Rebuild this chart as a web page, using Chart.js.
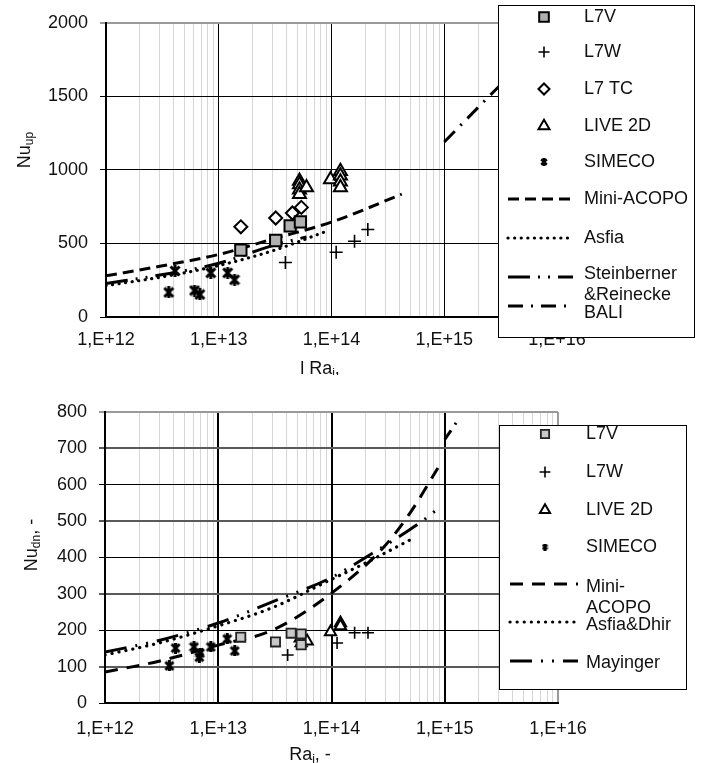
<!DOCTYPE html>
<html>
<head>
<meta charset="utf-8">
<script src="https://cdn.jsdelivr.net/npm/chart.js@4.4.0/dist/chart.umd.min.js"></script>
<style>
  body { margin: 0; background: #fff; }
  #wrap { position: relative; width: 706px; height: 763px; overflow: hidden; }
  canvas { position: absolute; left: 0; }
</style>
</head>
<body>
<div id="wrap">
  <canvas id="cUp" width="706" height="375" style="top:0px"></canvas>
  <canvas id="cDn" width="706" height="388" style="top:375px"></canvas>
</div>
<script>
/*      DATOS     */

// eje x comun (Ra_i, escala log)
const xTickLabels = ['1,E+12', '1,E+13', '1,E+14', '1,E+15', '1,E+16'];

// ---- grafico superior: Nu_up
const upYTicks = [0, 500, 1000, 1500, 2000];

const upL7vRa = [1.57e13, 3.2e13, 4.3e13, 5.3e13];
const upL7vNu = [455, 520, 620, 647];
const upL7wRa = [3.9e13, 1.1e14, 1.6e14, 2.1e14];
const upL7wNu = [370, 440, 515, 595];
const upTcRa = [1.57e13, 3.2e13, 4.5e13, 5.4e13];
const upTcNu = [613, 673, 707, 745];
const upLiveRa = [5.2e13, 5.2e13, 5.2e13, 5.2e13, 6.0e13, 9.8e13, 1.2e14, 1.2e14, 1.2e14, 1.2e14];
const upLiveNu = [925, 900, 865, 835, 880, 935, 990, 960, 920, 880];
const upSimRa = [3.6e12, 4.1e12, 6.1e12, 6.8e12, 8.5e12, 1.2e13, 1.38e13];
const upSimNu = [167, 313, 180, 153, 300, 300, 253];

const upMiniRa = [1e12, 3e12, 1e13, 3e13, 1e14, 4.2e14];
const upMiniNu = [280, 345, 425, 530, 645, 835];
const upAsfiaRa = [1e12, 3e12, 1e13, 3e13, 8.7e13];
const upAsfiaNu = [213, 270, 350, 450, 578];
const upSteinRa = [1e12, 3e12, 1e13, 3e13, 6e13];
const upSteinNu = [228, 285, 365, 485, 545];
const upBaliRa = [1e15, 2.9e15, 1e16];
const upBaliNu = [1190, 1550, 1960];

// ---- grafico inferior: Nu_dn
const dnYTicks = [0, 100, 200, 300, 400, 500, 600, 700, 800];

const dnL7vRa = [1.58e13, 3.2e13, 4.4e13, 5.4e13, 5.4e13];
const dnL7vNu = [181, 168, 192, 190, 160];
const dnL7wRa = [4.1e13, 1.12e14, 1.6e14, 2.1e14];
const dnL7wNu = [132, 165, 193, 193];
const dnLiveRa = [5.3e13, 5.4e13, 6.1e13, 9.8e13, 1.2e14, 1.2e14];
const dnLiveNu = [178, 165, 170, 195, 220, 212];
const dnSimRa = [3.7e12, 4.2e12, 6.1e12, 6.8e12, 6.9e12, 8.6e12, 1.2e13, 1.4e13];
const dnSimNu = [102, 151, 154, 126, 137, 154, 176, 143];

const dnMiniRa = [1e12, 3e12, 1e13, 3e13, 1e14, 2.9e14, 5e14, 8.7e14];
const dnMiniNu = [85, 115, 159, 200, 302, 429, 525, 646];
const dnAsfiaRa = [1e12, 3e12, 1e13, 3e13, 1e14, 2e14, 5.5e14];
const dnAsfiaNu = [132, 165, 212, 262, 340, 385, 456];
const dnMayRa = [1e12, 3e12, 1e13, 3e13, 1e14, 2e14, 6e14, 9.4e14];
const dnMayNu = [140, 172, 220, 278, 345, 400, 495, 542];
const dnBaliRa = [1e15, 1.15e15, 1.32e15];
const dnBaliNu = [725, 752, 780];

/*      UTILIDADES     */

const FAM = "'Liberation Sans', Arial, sans-serif";

function pts(xs, ys) {
    return xs.map(function(x, i) { return { x: x, y: ys[i] }; });
}

function esDecada(v) {
    var l = Math.log10(v);
    return Math.abs(l - Math.round(l)) < 1e-9;
}

// marcador tipo asterisco de Excel (X con barra vertical)
function marcaAsterisco(size, lw) {
    var c = document.createElement('canvas');
    c.width = size; c.height = size;
    var g = c.getContext('2d');
    g.strokeStyle = '#000';
    g.lineWidth = lw;
    var m = lw / 2;
    g.beginPath();
    g.moveTo(m, m); g.lineTo(size - m, size - m);
    g.moveTo(size - m, m); g.lineTo(m, size - m);
    g.moveTo(size / 2, 0); g.lineTo(size / 2, size);
    g.stroke();
    return c;
}

// caja de leyenda dibujada sobre el area del grafico
const leyendaCaja = {
    id: 'leyendaCaja',
    afterDraw(chart, args, opts) {
        var ctx = chart.ctx;
        var b = opts.box;
        ctx.save();
        ctx.fillStyle = '#fff';
        ctx.fillRect(b.x, b.y, b.w, b.h);
        ctx.strokeStyle = '#000';
        ctx.lineWidth = 1;
        ctx.strokeRect(b.x + 0.5, b.y + 0.5, b.w, b.h);
        var fila = 0;
        chart.data.datasets.forEach(function(ds) {
            if (ds.enLeyenda === false) return;
            var r = opts.rows[fila++];
            if (ds.showLine) {
                ctx.beginPath();
                ctx.setLineDash(ds.borderDash || []);
                ctx.lineWidth = ds.borderWidth;
                ctx.lineCap = ds.borderCapStyle || 'butt';
                ctx.strokeStyle = '#000';
                ctx.moveTo(opts.lineX0, r.sy);
                ctx.lineTo(opts.lineX1, r.sy);
                ctx.stroke();
                ctx.setLineDash([]);
            } else {
                ctx.fillStyle = ds.pointBackgroundColor || '#000';
                ctx.strokeStyle = ds.pointBorderColor || '#000';
                ctx.lineWidth = ds.pointBorderWidth || 1;
                Chart.helpers.drawPoint(ctx, {
                    pointStyle: ds.marcaLeyenda || ds.pointStyle,
                    radius: ds.pointRadius * opts.escala,
                    borderWidth: ds.pointBorderWidth || 1,
                    rotation: 0
                }, opts.symX, r.sy);
            }
            ctx.fillStyle = '#111';
            ctx.font = opts.font;
            ctx.textAlign = 'left';
            ctx.textBaseline = 'middle';
            ds.label.split('\n').forEach(function(t, k) {
                ctx.fillText(t, opts.textX, r.ty[k]);
            });
        });
        ctx.restore();
    }
};

// titulos de ejes con subindices
const titulosEjes = {
    id: 'titulosEjes',
    afterDraw(chart, args, opts) {
        var ctx = chart.ctx;
        var fMain = opts.size + 'px ' + FAM;
        var fSub = Math.round(opts.size * 0.68) + 'px ' + FAM;
        opts.items.forEach(function(it) {
            ctx.save();
            ctx.translate(it.x, it.y);
            if (it.rot) ctx.rotate(-Math.PI / 2);
            var w = 0;
            it.parts.forEach(function(p) {
                ctx.font = p.sub ? fSub : fMain;
                w += ctx.measureText(p.t).width;
            });
            var cx = -w / 2;
            ctx.textBaseline = 'middle';
            ctx.textAlign = 'left';
            ctx.fillStyle = '#111';
            it.parts.forEach(function(p) {
                ctx.font = p.sub ? fSub : fMain;
                ctx.fillText(p.t, cx, p.sub ? 5 : 0);
                cx += ctx.measureText(p.t).width;
            });
            ctx.restore();
        });
    }
};

function ejeX(decadaAncho, cajaAlto, padTicks) {
    return {
        type: 'logarithmic',
        min: 1e12,
        max: 1e16,
        afterBuildTicks: function(scale) {
            var t = [];
            for (var e = 12; e < 16; e++) {
                for (var k = 1; k <= 9; k++) t.push({ value: k * Math.pow(10, e) });
            }
            t.push({ value: 1e16 });
            scale.ticks = t;
        },
        afterFit: function(scale) { scale.height = cajaAlto; },
        ticks: {
            autoSkip: false,
            maxRotation: 0,
            padding: padTicks,
            color: '#111',
            font: { family: FAM, size: 18 },
            callback: function(v) {
                if (!esDecada(v)) return '';
                return xTickLabels[Math.round(Math.log10(v)) - 12];
            }
        },
        grid: {
            drawTicks: false,
            color: function(c) {
                var v = c.tick.value;
                if (v >= 1e16) return '#9a9a9a';
                return esDecada(v) ? '#000' : '#d6d6d6';
            },
            lineWidth: function(c) {
                var v = c.tick.value;
                if (v >= 1e16) return 2;
                return esDecada(v) ? decadaAncho : 1;
            }
        },
        border: { color: '#000', width: 2 }
    };
}

function ejeY(valores, ancho, colorFn, anchoFn) {
    return {
        min: valores[0],
        max: valores[valores.length - 1],
        afterBuildTicks: function(scale) {
            scale.ticks = valores.map(function(v) { return { value: v }; });
        },
        afterFit: function(scale) { scale.width = ancho; },
        ticks: {
            padding: 12,
            color: '#111',
            font: { family: FAM, size: 18 },
            callback: function(v) { return String(v); }
        },
        grid: {
            tickLength: 6,
            color: colorFn,
            lineWidth: anchoFn
        },
        border: { color: '#000', width: 2 }
    };
}

/*      GRAFICO SUPERIOR     */

var simUp = marcaAsterisco(12, 3);
var simUpLey = marcaAsterisco(8, 2.5);

new Chart(document.getElementById('cUp'), {
    type: 'scatter',
    data: {
        datasets: [
            { label: 'L7V', data: pts(upL7vRa, upL7vNu), pointStyle: 'rect', pointRadius: 8,
              pointBackgroundColor: '#b0b0b0', pointBorderColor: '#000', pointBorderWidth: 2 },
            { label: 'L7W', data: pts(upL7wRa, upL7wNu), pointStyle: 'cross', pointRadius: 6.5,
              pointBackgroundColor: '#000', pointBorderColor: '#000', pointBorderWidth: 1.6 },
            { label: 'L7 TC', data: pts(upTcRa, upTcNu), pointStyle: 'rectRot', pointRadius: 6.5,
              pointBackgroundColor: '#fff', pointBorderColor: '#000', pointBorderWidth: 2 },
            { label: 'LIVE 2D', data: pts(upLiveRa, upLiveNu), pointStyle: 'triangle', pointRadius: 7.5,
              pointBackgroundColor: '#fff', pointBorderColor: '#000', pointBorderWidth: 2 },
            { label: 'SIMECO', data: pts(upSimRa, upSimNu), pointStyle: simUp, marcaLeyenda: simUpLey, pointRadius: 6,
              pointBackgroundColor: '#000', pointBorderColor: '#000', pointBorderWidth: 1 },
            { label: 'Mini-ACOPO', data: pts(upMiniRa, upMiniNu), showLine: true, pointRadius: 0,
              borderColor: '#000', borderWidth: 3, borderDash: [11, 6], cubicInterpolationMode: 'monotone' },
            { label: 'Asfia', data: pts(upAsfiaRa, upAsfiaNu), showLine: true, pointRadius: 0,
              borderColor: '#000', borderWidth: 3.2, borderDash: [0.1, 6.5], borderCapStyle: 'round',
              cubicInterpolationMode: 'monotone' },
            { label: 'Steinberner\n&Reinecke', data: pts(upSteinRa, upSteinNu), showLine: true, pointRadius: 0,
              borderColor: '#000', borderWidth: 3, borderDash: [22, 8, 2, 8, 2, 8], cubicInterpolationMode: 'monotone' },
            { label: 'BALI', data: pts(upBaliRa, upBaliNu), showLine: true, pointRadius: 0,
              borderColor: '#000', borderWidth: 3, borderDash: [15, 8, 2, 8], cubicInterpolationMode: 'monotone' }
        ]
    },
    options: {
        responsive: false,
        animation: false,
        layout: { padding: { left: 0, top: 18, right: 149, bottom: 0 } },
        scales: {
            x: ejeX(1, 58, 12),
            y: ejeY(upYTicks, 106,
                function(c) { return c.tick.value >= 2000 ? '#9a9a9a' : '#000'; },
                function(c) { return c.tick.value >= 2000 ? 2 : 1; })
        },
        plugins: {
            legend: { display: false },
            tooltip: { enabled: false },
            leyendaCaja: {
                box: { x: 498, y: 5, w: 196, h: 332 },
                symX: 544, lineX0: 508, lineX1: 573, textX: 584, escala: 0.85,
                font: '18px ' + FAM,
                rows: [
                    { sy: 17, ty: [17] }, { sy: 52, ty: [52] }, { sy: 89, ty: [89] },
                    { sy: 126, ty: [126] }, { sy: 162, ty: [162] }, { sy: 199, ty: [199] },
                    { sy: 238, ty: [238] }, { sy: 277, ty: [274, 295] }, { sy: 306, ty: [313] }
                ]
            },
            titulosEjes: {
                size: 18,
                items: [
                    { x: 25, y: 150, rot: true, parts: [{ t: 'Nu' }, { t: 'up', sub: true }] },
                    { x: 320, y: 369, parts: [{ t: 'l Ra' }, { t: 'i', sub: true }, { t: ',' }] }
                ]
            }
        }
    },
    plugins: [leyendaCaja, titulosEjes]
});

/*      GRAFICO INFERIOR     */

var simDn = marcaAsterisco(11, 3);
var simDnLey = marcaAsterisco(7, 2.5);

new Chart(document.getElementById('cDn'), {
    type: 'scatter',
    data: {
        datasets: [
            { label: 'L7V', data: pts(dnL7vRa, dnL7vNu), pointStyle: 'rect', pointRadius: 6.5,
              pointBackgroundColor: '#c8c8c8', pointBorderColor: '#222', pointBorderWidth: 1.8 },
            { label: 'L7W', data: pts(dnL7wRa, dnL7wNu), pointStyle: 'cross', pointRadius: 6,
              pointBackgroundColor: '#000', pointBorderColor: '#000', pointBorderWidth: 1.6 },
            { label: 'LIVE 2D', data: pts(dnLiveRa, dnLiveNu), pointStyle: 'triangle', pointRadius: 6.5,
              pointBackgroundColor: '#fff', pointBorderColor: '#000', pointBorderWidth: 2 },
            { label: 'SIMECO', data: pts(dnSimRa, dnSimNu), pointStyle: simDn, marcaLeyenda: simDnLey, pointRadius: 5,
              pointBackgroundColor: '#000', pointBorderColor: '#000', pointBorderWidth: 1 },
            { label: 'Mini-\nACOPO', data: pts(dnMiniRa, dnMiniNu), showLine: true, pointRadius: 0,
              borderColor: '#000', borderWidth: 3, borderDash: [13, 9], cubicInterpolationMode: 'monotone' },
            { label: 'Asfia&Dhir', data: pts(dnAsfiaRa, dnAsfiaNu), showLine: true, pointRadius: 0,
              borderColor: '#000', borderWidth: 3.2, borderDash: [0.1, 7], borderCapStyle: 'round',
              cubicInterpolationMode: 'monotone' },
            { label: 'Mayinger', data: pts(dnMayRa, dnMayNu), showLine: true, pointRadius: 0,
              borderColor: '#000', borderWidth: 3, borderDash: [22, 9, 2, 9, 2, 9], cubicInterpolationMode: 'monotone' },
            { label: 'BALI', enLeyenda: false, data: pts(dnBaliRa, dnBaliNu), showLine: true, pointRadius: 0,
              borderColor: '#000', borderWidth: 3, borderDash: [11, 7, 2, 7], cubicInterpolationMode: 'monotone' }
        ]
    },
    options: {
        responsive: false,
        animation: false,
        layout: { padding: { left: 0, top: 37, right: 148, bottom: 0 } },
        scales: {
            x: ejeX(2, 60, 15),
            y: ejeY(dnYTicks, 105,
                function(c) {
                    var v = c.tick.value;
                    if (v >= 800) return '#9a9a9a';
                    return (v / 100) % 2 === 1 ? '#5a5a5a' : '#000';
                },
                function(c) {
                    var v = c.tick.value;
                    if (v >= 800) return 2;
                    return (v / 100) % 2 === 1 ? 2 : 1;
                })
        },
        plugins: {
            legend: { display: false },
            tooltip: { enabled: false },
            leyendaCaja: {
                box: { x: 499, y: 50, w: 187, h: 264 },
                symX: 545, lineX0: 510, lineX1: 578, textX: 586, escala: 0.9,
                font: '18px ' + FAM,
                rows: [
                    { sy: 59, ty: [59] }, { sy: 97, ty: [97] }, { sy: 135, ty: [135] },
                    { sy: 172, ty: [172] }, { sy: 209, ty: [212, 233] }, { sy: 247, ty: [250] },
                    { sy: 286, ty: [288] }
                ]
            },
            titulosEjes: {
                size: 18,
                items: [
                    { x: 32, y: 170, rot: true, parts: [{ t: 'Nu' }, { t: 'dn', sub: true }, { t: ', -' }] },
                    { x: 310, y: 380, parts: [{ t: 'Ra' }, { t: 'i', sub: true }, { t: ', -' }] }
                ]
            }
        }
    },
    plugins: [leyendaCaja, titulosEjes]
});
</script>
</body>
</html>
